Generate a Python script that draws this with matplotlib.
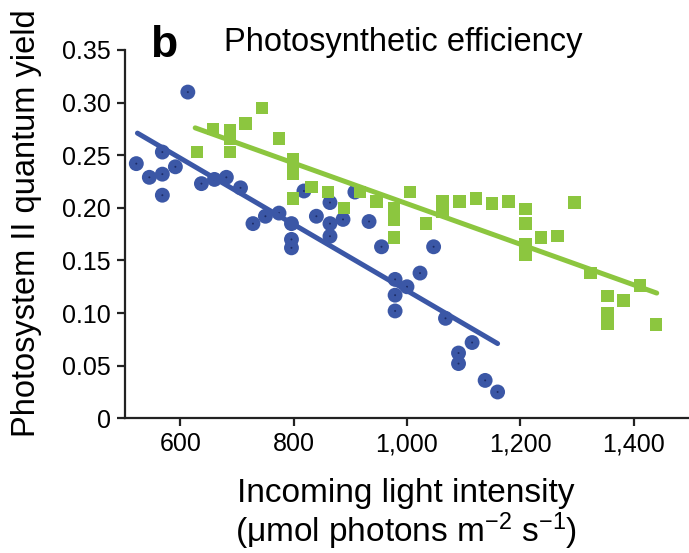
import numpy as np
import matplotlib
matplotlib.use("Agg")
import matplotlib.pyplot as plt

plt.rcParams['font.family'] = ['Liberation Sans', 'DejaVu Sans']
plt.rcParams['mathtext.fontset'] = 'custom'
plt.rcParams['mathtext.rm'] = 'Liberation Sans'
plt.rcParams['mathtext.it'] = 'Liberation Sans'

# blue circles (light intensity, PSII quantum yield)
blue_x = [522, 545, 568, 568, 568, 591, 613, 637, 660, 681, 706, 728, 750, 774,
          796, 796, 796, 818, 840, 864, 864, 864, 887, 908, 933, 955, 1047, 1023,
          979, 1000, 979, 979, 1068, 1115, 1091, 1091, 1138, 1160]
blue_y = [0.242, 0.229, 0.253, 0.232, 0.212, 0.239, 0.310, 0.223, 0.227, 0.229,
          0.219, 0.185, 0.192, 0.195, 0.185, 0.170, 0.162, 0.216, 0.192, 0.205,
          0.185, 0.173, 0.189, 0.215, 0.187, 0.163, 0.163, 0.138, 0.132, 0.125,
          0.117, 0.102, 0.095, 0.072, 0.062, 0.052, 0.036, 0.025]

# green squares
green_x = [629, 657, 687, 687, 687, 715, 744, 774, 799, 799, 799, 799, 831, 861,
           889, 917, 946, 977, 977, 977, 1005, 1034, 1063, 1063, 1093, 1122, 1150,
           1179, 1209, 1209, 1209, 1209, 1237, 1266, 1296, 1324, 1354, 1354, 1354,
           1382, 1411, 1440]
green_y = [0.253, 0.275, 0.274, 0.266, 0.253, 0.280, 0.295, 0.266, 0.246, 0.239,
           0.232, 0.209, 0.220, 0.215, 0.200, 0.215, 0.206, 0.200, 0.189, 0.172,
           0.215, 0.185, 0.206, 0.196, 0.206, 0.209, 0.204, 0.206, 0.199, 0.185,
           0.165, 0.155, 0.172, 0.173, 0.205, 0.138, 0.116, 0.100, 0.090, 0.112,
           0.126, 0.089]

# regression lines (end points)
blue_fit_x = [524, 1160]
blue_fit_y = [0.271, 0.071]
green_fit_x = [626, 1441]
green_fit_y = [0.276, 0.119]

x_ticks = [600, 800, 1000, 1200, 1400]
x_ticklabels = ["600", "800", "1,000", "1,200", "1,400"]
y_ticks = [0, 0.05, 0.10, 0.15, 0.20, 0.25, 0.30, 0.35]
y_ticklabels = ["0", "0.05", "0.10", "0.15", "0.20", "0.25", "0.30", "0.35"]

blue = "#3b57a6"
green = "#8cc63f"

fig = plt.figure(figsize=(6.89, 5.53), dpi=100)
ax = fig.add_axes([0.1814, 0.2436, 0.8186, 0.666])

ax.scatter(blue_x, blue_y, s=115, color=blue, edgecolors='none', zorder=2)
ax.scatter(blue_x, blue_y, s=2, color="#1d2c66", edgecolors='none', zorder=2)
ax.scatter(green_x, green_y, s=80, marker='s', color=green, edgecolors='none', zorder=3)
ax.plot(blue_fit_x, blue_fit_y, color=blue, linewidth=3.6, solid_capstyle='round', zorder=4)
ax.plot(green_fit_x, green_fit_y, color=green, linewidth=3.6, solid_capstyle='round', zorder=4)

ax.set_xlim(502, 1498)
ax.set_ylim(0, 0.35)
ax.set_xticks(x_ticks)
ax.set_xticklabels(x_ticklabels)
ax.set_yticks(y_ticks)
ax.set_yticklabels(y_ticklabels)

for s in ['top', 'right']:
    ax.spines[s].set_visible(False)
for s in ['left', 'bottom']:
    ax.spines[s].set_linewidth(1.6)
    ax.spines[s].set_color("#222222")
ax.tick_params(labelsize=18, length=6, width=1.6, color="#222222", pad=4)

fig.text(0.039, 0.596, "Photosystem II quantum yield", fontsize=23.5,
         rotation=90, ha='center', va='center')
fig.text(0.589, 0.107, "Incoming light intensity", fontsize=24, ha='center', va='center')
fig.text(0.589, 0.040, r"($\mu$mol photons m$^{-2}$ s$^{-1}$)", fontsize=24,
         ha='center', va='center')

fig.text(0.218, 0.918, "b", fontsize=32, fontweight='heavy', ha='left', va='center')
fig.text(0.325, 0.923, "Photosynthetic efficiency", fontsize=23.5, ha='left', va='center')

fig.savefig("out.png", dpi=100)
